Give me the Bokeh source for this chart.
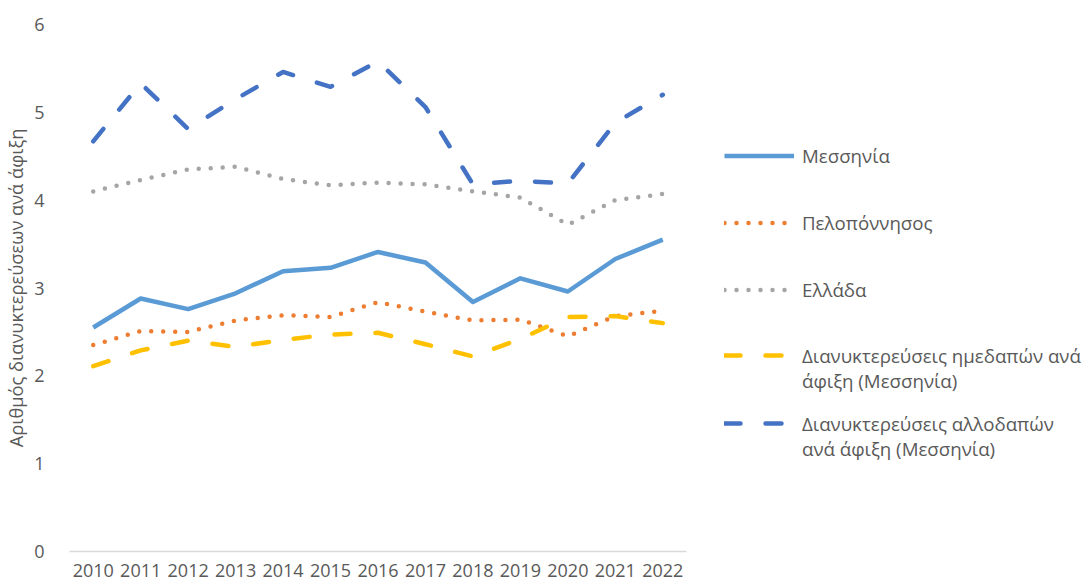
from bokeh.plotting import figure
from bokeh.models import Legend, LegendItem, Range1d, FixedTicker
from bokeh.embed import file_html
from bokeh.resources import INLINE

years = [2010, 2011, 2012, 2013, 2014, 2015, 2016,
         2017, 2018, 2019, 2020, 2021, 2022]

messinia = [2.55, 2.88, 2.76, 2.94, 3.19, 3.23, 3.41, 3.29, 2.84, 3.11, 2.96, 3.33, 3.55]
peloponnisos = [2.35, 2.51, 2.50, 2.63, 2.69, 2.67, 2.84, 2.73, 2.63, 2.64, 2.45, 2.68, 2.74]
ellada = [4.10, 4.23, 4.35, 4.38, 4.24, 4.17, 4.20, 4.18, 4.10, 4.03, 3.72, 4.00, 4.07]
imedapoi = [2.11, 2.29, 2.40, 2.33, 2.41, 2.47, 2.49, 2.36, 2.22, 2.42, 2.67, 2.68, 2.60]
allodapoi = [4.67, 5.33, 4.81, 5.15, 5.46, 5.29, 5.58, 5.06, 4.18, 4.22, 4.19, 4.88, 5.20]

series_names = [
    "Μεσσηνία",
    "Πελοπόννησος",
    "Ελλάδα",
    "Διανυκτερεύσεις ημεδαπών ανά\nάφιξη (Μεσσηνία)",
    "Διανυκτερεύσεις αλλοδαπών\nανά άφιξη (Μεσσηνία)",
]
y_ticks = [0, 1, 2, 3, 4, 5, 6]

FONT = "Open Sans"
TXT = "#595959"

WIDTH, HEIGHT = 1087, 586
LEFT, TOP, BOTTOM = 69, 24, 35
AXIS_RIGHT_PX = 686            # where the category axis ends
x0 = years[0] - 0.5
x1 = years[-1] + 0.5
px_per_unit = (AXIS_RIGHT_PX - LEFT) / (x1 - x0)
x_end = x0 + (WIDTH - LEFT) / px_per_unit   # frame spans to the right edge

p = figure(width=WIDTH, height=HEIGHT,
           x_range=Range1d(x0, x_end),
           y_range=Range1d(0, 6),
           output_backend="svg", toolbar_location=None,
           min_border_left=LEFT, min_border_right=0,
           min_border_top=TOP, min_border_bottom=BOTTOM)

p.outline_line_color = None
p.xgrid.grid_line_color = None
p.ygrid.grid_line_color = None
p.background_fill_color = "white"
p.border_fill_color = "white"

p.yaxis.ticker = FixedTicker(ticks=y_ticks)
p.yaxis.axis_line_color = None
p.yaxis.major_tick_line_color = None
p.yaxis.minor_tick_line_color = None
p.yaxis.major_label_standoff = 19
p.yaxis.major_label_text_font = FONT
p.yaxis.major_label_text_font_size = "18px"
p.yaxis.major_label_text_color = TXT
p.yaxis.axis_label = "Αριθμός διανυκτερεύσεων ανά άφιξη"
p.yaxis.axis_label_text_font = FONT
p.yaxis.axis_label_text_font_size = "18.3px"
p.yaxis.axis_label_text_font_style = "normal"
p.yaxis.axis_label_text_color = TXT
p.yaxis.axis_label_standoff = 3

p.xaxis.ticker = FixedTicker(ticks=years)
p.xaxis.bounds = (x0, x1)
p.xaxis.axis_line_color = "#D9D9D9"
p.xaxis.axis_line_width = 1.5
p.xaxis.major_tick_line_color = None
p.xaxis.minor_tick_line_color = None
p.xaxis.major_tick_out = 0
p.xaxis.major_label_standoff = 12
p.xaxis.major_label_text_font = FONT
p.xaxis.major_label_text_font_size = "18px"
p.xaxis.major_label_text_color = TXT

W = 4.5
r1 = p.line(years, messinia, line_color="#5B9BD5", line_width=W, line_join="round")
r2 = p.line(years, peloponnisos, line_color="#ED7D31", line_width=W,
            line_dash="0 12", line_cap="round", line_join="round")
r3 = p.line(years, ellada, line_color="#A5A5A5", line_width=W,
            line_dash="0 12", line_cap="round", line_join="round")
r4 = p.line(years, imedapoi, line_color="#FFC000", line_width=W,
            line_dash="16 25", line_cap="round", line_join="round")
r5 = p.line(years, allodapoi, line_color="#4472C4", line_width=W,
            line_dash="16 25", line_cap="round", line_join="round")

renderers = [r1, r2, r3, r4, r5]

common = dict(glyph_width=70, label_standoff=8, padding=0, margin=0,
              border_line_color=None, background_fill_alpha=0,
              label_text_font=FONT, label_text_font_size="18.7px",
              label_text_line_height=1.4, label_text_color=TXT)

# single-line entries
legend1 = Legend(items=[LegendItem(label=n, renderers=[r])
                        for n, r in zip(series_names[:3], renderers[:3])],
                 location=(655, 237), glyph_height=49, label_height=49,
                 spacing=18, **common)
p.add_layout(legend1, "center")

# two-line entries: the key sits level with the first line of text,
# so the label block gets an empty leading line to centre that line on the key
for name, r, loc_y in zip(series_names[3:], renderers[3:], [157, 89]):
    lg = Legend(items=[LegendItem(label="\n" + name, renderers=[r])],
                location=(655, loc_y), glyph_height=26, label_height=78,
                spacing=0, **common)
    p.add_layout(lg, "center")

open("out.html", "w").write(file_html(p, INLINE))
